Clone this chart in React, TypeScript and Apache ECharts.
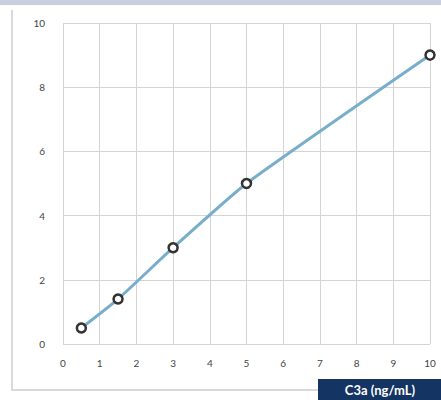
import React, { useEffect, useRef } from "react";
import * as echarts from "echarts";

const xValues = [0.5, 1.5, 3, 5, 10];
const yValues = [0.5, 1.4, 3, 5, 9];
const axisTitle = "C3a (ng/mL)";

export default function App() {
  const ref = useRef<HTMLDivElement>(null);
  useEffect(() => {
    document.body.style.margin = "0";
    const chart = echarts.init(ref.current!, null, { renderer: "svg" });
    chart.setOption({
      animation: false,
      backgroundColor: "#ffffff",
      grid: { left: 63, right: 11, top: 23, bottom: 56 },
      xAxis: {
        type: "value",
        min: 0,
        max: 10,
        interval: 1,
        axisLine: { show: false },
        axisTick: { show: false },
        splitLine: { lineStyle: { color: "#d4d4d4", width: 1 } },
        axisLabel: { color: "#444", fontSize: 10, fontFamily: "Lato", margin: 14 },
      },
      yAxis: {
        type: "value",
        min: 0,
        max: 10,
        interval: 2,
        axisLine: { show: false },
        axisTick: { show: false },
        splitLine: { lineStyle: { color: "#d4d4d4", width: 1 } },
        axisLabel: { color: "#444", fontSize: 10, fontFamily: "Lato", margin: 18 },
      },
      graphic: [
        { type: "rect", shape: { x: 0, y: 0, width: 441, height: 5 }, style: { fill: "#c9cfde" } },
        { type: "rect", shape: { x: 11, y: 10, width: 2, height: 381 }, style: { fill: "#d9d9d9" } },
        { type: "rect", shape: { x: 11, y: 389, width: 308, height: 2 }, style: { fill: "#d9d9d9" } },
        { type: "rect", shape: { x: 318, y: 379, width: 123, height: 21 }, style: { fill: "#143464" } },
        {
          type: "text",
          x: 380,
          y: 390,
          style: {
            text: axisTitle,
            fill: "#ffffff",
            font: "bold 13px Lato",
            align: "center",
            verticalAlign: "middle",
          },
        },
      ],
      series: [
        {
          type: "line",
          data: xValues.map((x, i) => [x, yValues[i]]),
          smooth: 0.15,
          lineStyle: { color: "#78aecb", width: 3 },
          symbol: "circle",
          symbolSize: 9,
          itemStyle: { color: "#ffffff", borderColor: "#333333", borderWidth: 2.5 },
        },
      ],
    });
    return () => chart.dispose();
  }, []);
  return <div ref={ref} style={{ width: 441, height: 400, position: "absolute", left: 0, top: 0 }} />;
}
